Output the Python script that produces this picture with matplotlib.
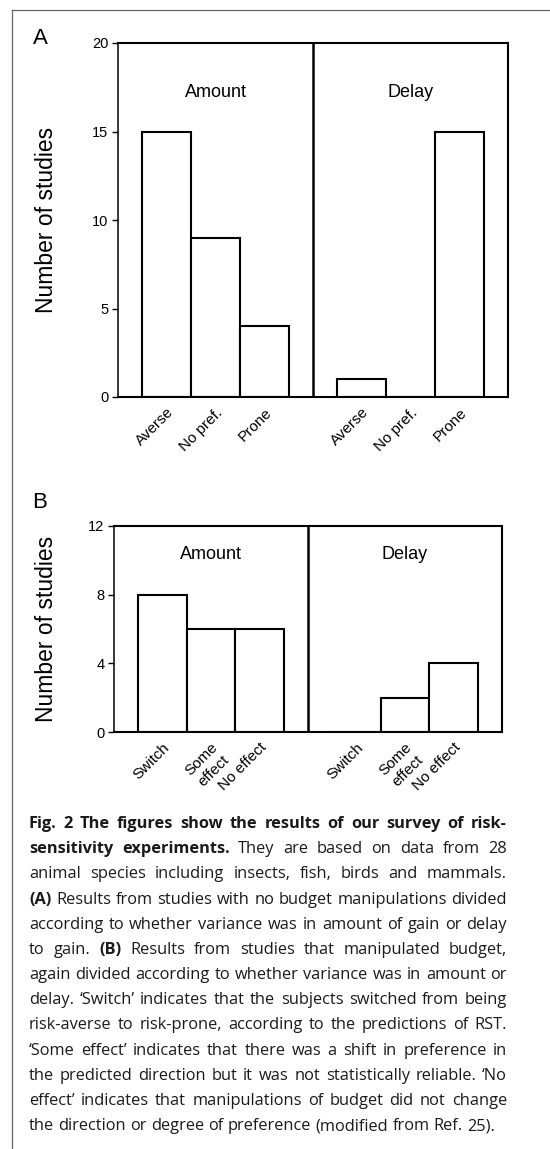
import matplotlib
matplotlib.use('Agg')
import matplotlib.pyplot as plt
from matplotlib.lines import Line2D

# data
groups = ['Amount', 'Delay']
labels_a = ['Averse', 'No pref.', 'Prone']
amount_a = [15, 9, 4]
delay_a = [1, 0, 15]
labels_b = ['Switch', 'Some\neffect', 'No effect']
amount_b = [8, 6, 6]
delay_b = [0, 2, 4]
yticks_a = [0, 5, 10, 15, 20]
yticks_b = [0, 4, 8, 12]

caption_lines = [
    '**Fig.** **2** **The** **figures** **show** **the** **results** **of** **our** **survey** **of** **risk-**',
    '**sensitivity** **experiments.** They are based on data from 28',
    'animal species including insects, fish, birds and mammals.',
    '**(A)** Results from studies with no budget manipulations divided',
    'according to whether variance was in amount of gain or delay',
    'to gain. **(B)** Results from studies that manipulated budget,',
    'again divided according to whether variance was in amount or',
    'delay. \u2018Switch\u2019 indicates that the subjects switched from being',
    'risk-averse to risk-prone, according to the predictions of RST.',
    '\u2018Some effect\u2019 indicates that there was a shift in preference in',
    'the predicted direction but it was not statistically reliable. \u2018No',
    'effect\u2019 indicates that manipulations of budget did not change',
    'the direction or degree of preference (modified from Ref. 25).',
]

plt.rcParams['font.family'] = ['Liberation Sans', 'DejaVu Sans']

W, H = 550, 1149
fig = plt.figure(figsize=(W / 100, H / 100), dpi=100)


def px(x, y):
    return x / W, 1 - y / H


def panel(rect, labels, left_vals, right_vals, ymax, yticks, letter, letter_xy):
    ax = fig.add_axes(rect)
    pos_left = [1, 2, 3]
    pos_right = [5, 6, 7]
    ax.bar(pos_left, left_vals, width=1, color='white', edgecolor='black', linewidth=1.5)
    ax.bar(pos_right, right_vals, width=1, color='white', edgecolor='black', linewidth=1.5)
    ax.axvline(4, color='black', linewidth=1.8)
    ax.set_xlim(0, 8)
    ax.set_ylim(0, ymax)
    ax.set_yticks(yticks)
    ax.set_xticks(pos_left + pos_right)
    ax.set_xticklabels(labels + labels, rotation=45, ha='right', va='top',
                       rotation_mode='anchor', fontsize=11, multialignment='center')
    ax.tick_params(axis='x', length=0, pad=6)
    ax.tick_params(axis='y', length=4, width=1, direction='out', pad=3, labelsize=10.5)
    for s in ax.spines.values():
        s.set_linewidth(1.5)
    ax.spines['left'].set_linewidth(1.1)
    ax.set_ylabel('Number of studies', fontsize=16.5, va='center')
    ax.text(2, ymax * 0.86, groups[0], ha='center', va='center', fontsize=13)
    ax.text(6, ymax * 0.86, groups[1], ha='center', va='center', fontsize=13)
    fig.text(*px(*letter_xy), letter, fontsize=16, ha='center', va='center')
    return ax


ax_a = panel([118 / W, 1 - 397 / H, 390 / W, 354 / H], labels_a, amount_a, delay_a,
             20, yticks_a, 'A', (40, 38))
ax_a.yaxis.set_label_coords(-0.183, 0.5)

ax_b = panel([114 / W, 1 - 732 / H, 388 / W, 206 / H], labels_b, amount_b, delay_b,
             12, yticks_b, 'B', (40, 502))
ax_b.yaxis.set_label_coords(-0.173, 0.5)

# frame lines round the figure box
fig.add_artist(Line2D([12 / W, 12 / W], [0, 1 - 10 / H], color='0.4', linewidth=0.9))
fig.add_artist(Line2D([12 / W, 1], [1 - 10 / H, 1 - 10 / H], color='0.4', linewidth=0.9))

# caption, justified by hand
renderer = fig.canvas.get_renderer()
cap_font = 'Open Sans'
cap_size = 11.8
x0, x1 = 29, 507
y0, dy = 828, 25.17


def word_obj(word, x, y):
    bold = word.startswith('**') and word.endswith('**')
    txt = word.strip('*') if bold else word
    return fig.text(*px(x, y), txt, family=cap_font, fontsize=cap_size,
                    fontweight='bold' if bold else 'normal', color='#1a1a1a',
                    ha='left', va='baseline')


probe1 = fig.text(0, 0, 'x x', family=cap_font, fontsize=cap_size)
probe2 = fig.text(0, 0, 'xx', family=cap_font, fontsize=cap_size)
space_w = probe1.get_window_extent(renderer).width - probe2.get_window_extent(renderer).width
probe1.remove()
probe2.remove()

for i, line in enumerate(caption_lines):
    y = y0 + i * dy
    words = line.split(' ')
    objs = [word_obj(w, 0, y) for w in words]
    widths = [o.get_window_extent(renderer).width for o in objs]
    if i < len(caption_lines) - 1 and len(words) > 1:
        gap = (x1 - x0 - sum(widths)) / (len(words) - 1)
    else:
        gap = space_w
    x = x0
    for o, w in zip(objs, widths):
        o.set_position(px(x, y))
        x += w + gap

fig.savefig('out.png', dpi=100)
